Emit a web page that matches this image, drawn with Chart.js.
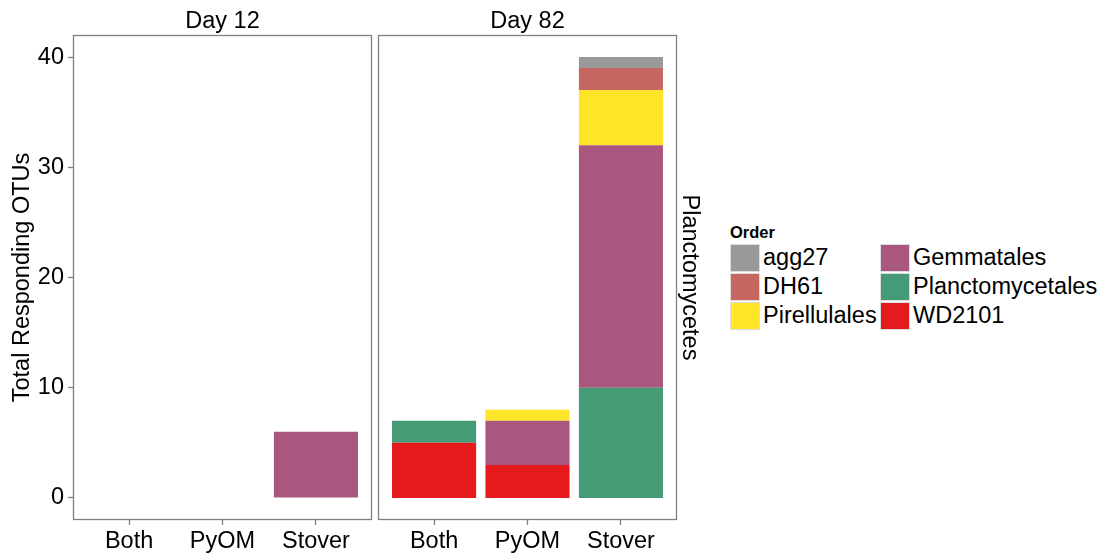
<!DOCTYPE html>
<html>
<head>
<meta charset="utf-8">
<script src="https://cdn.jsdelivr.net/npm/chart.js@4"></script>
<style>
  body { margin: 0; background: #fff; font-family: 'Liberation Sans', Arial, sans-serif; }
  #wrap { position: relative; width: 1104px; height: 554px; }
  canvas { position: absolute; top: 0; }
  #legend { position: absolute; left: 730px; top: 221px; }
  #legend .ttl { font-weight: bold; font-size: 16.5px; height: 22px; line-height: 22px; }
  .col { position: absolute; top: 22px; }
  .item { height: 29px; display: flex; align-items: center; }
  .key { width: 30px; height: 28px; border: 0.5px solid #ddd; box-sizing: border-box; margin-right: 3px; }
  .lab { font-size: 23.5px; color: #000; }
</style>
</head>
<body>
<div id="wrap">
  <canvas id="day12" width="373" height="554" style="left:0"></canvas>
  <canvas id="day82" width="347" height="554" style="left:373px"></canvas>
  <div id="legend"><div class="ttl">Order</div></div>
</div>
<script>
// categories and facets
const categories = ['Both', 'PyOM', 'Stover'];
const yTicks = [0, 10, 20, 30, 40];

// stacking order, bottom first
const orders = ['WD2101', 'Planctomycetales', 'Gemmatales', 'Pirellulales', 'DH61', 'agg27'];
const colors = ['#E41A1C', '#459B76', '#AA577F', '#FFE528', '#C76762', '#999999'];

// legend order (two columns)
const legendOrder = ['agg27', 'DH61', 'Pirellulales', 'Gemmatales', 'Planctomycetales', 'WD2101'];

// Day 12 values per order (Both, PyOM, Stover)
const day12WD2101 = [0, 0, 0];
const day12Planctomycetales = [0, 0, 0];
const day12Gemmatales = [0, 0, 6];
const day12Pirellulales = [0, 0, 0];
const day12DH61 = [0, 0, 0];
const day12agg27 = [0, 0, 0];

// Day 82 values per order
const day82WD2101 = [5, 3, 0];
const day82Planctomycetales = [2, 0, 10];
const day82Gemmatales = [0, 4, 22];
const day82Pirellulales = [0, 1, 5];
const day82DH61 = [0, 0, 2];
const day82agg27 = [0, 0, 1];

const day12 = [day12WD2101, day12Planctomycetales, day12Gemmatales, day12Pirellulales, day12DH61, day12agg27];
const day82 = [day82WD2101, day82Planctomycetales, day82Gemmatales, day82Pirellulales, day82DH61, day82agg27];

const FONT = "'Liberation Sans', Arial, sans-serif";
const FS = 23.5;
const GREY = '#808080';

function makeDatasets(values) {
  return orders.map(function (name, k) {
    return {
      label: name,
      data: values[k].map(function (v, i) { return { x: i + 1, y: v }; }),
      backgroundColor: colors[k],
      borderWidth: 0,
      categoryPercentage: 1,
      barPercentage: 0.9
    };
  });
}

// panel border + strip title above the panel
const panelBox = {
  id: 'panelBox',
  afterDraw(chart, args, opts) {
    const a = chart.chartArea, ctx = chart.ctx;
    ctx.save();
    ctx.strokeStyle = GREY;
    ctx.lineWidth = 1.3;
    ctx.strokeRect(a.left + 0.5, a.top + 0.5, a.right - a.left - 1, a.bottom - a.top - 1);
    ctx.fillStyle = '#000';
    ctx.font = FS + 'px ' + FONT;
    ctx.textAlign = 'center';
    ctx.textBaseline = 'middle';
    ctx.fillText(opts.text, (a.left + a.right) / 2, 22);
    ctx.restore();
  }
};

// right strip label
const rightStrip = {
  id: 'rightStrip',
  afterDraw(chart) {
    const a = chart.chartArea, ctx = chart.ctx;
    ctx.save();
    ctx.translate(a.right + 12, (a.top + a.bottom) / 2);
    ctx.rotate(Math.PI / 2);
    ctx.fillStyle = '#000';
    ctx.font = FS + 'px ' + FONT;
    ctx.textAlign = 'center';
    ctx.textBaseline = 'middle';
    ctx.fillText('Planctomycetes', 0, 0);
    ctx.restore();
  }
};

function makeChart(id, title, values, showY, padding, extra) {
  return new Chart(document.getElementById(id), {
    type: 'bar',
    data: { datasets: makeDatasets(values) },
    plugins: [panelBox].concat(extra),
    options: {
      responsive: false,
      animation: false,
      layout: { padding: padding },
      plugins: {
        legend: { display: false },
        tooltip: { enabled: false },
        panelBox: { text: title }
      },
      scales: {
        x: {
          type: 'linear',
          stacked: true,
          offset: false,
          min: 0.4,
          max: 3.6,
          afterBuildTicks: function (s) { s.ticks = categories.map(function (c, i) { return { value: i + 1 }; }); },
          afterFit: function (s) { s.height = 34; },
          grid: { offset: false, drawOnChartArea: false, tickLength: 5, tickColor: GREY, tickWidth: 1.3 },
          border: { display: false },
          ticks: {
            color: '#000',
            padding: 2,
            font: { family: FONT, size: FS },
            maxRotation: 0,
            autoSkip: false,
            callback: function (v) { return categories[v - 1]; }
          }
        },
        y: {
          display: showY,
          stacked: true,
          min: -2,
          max: 42,
          afterBuildTicks: function (s) { s.ticks = yTicks.map(function (v) { return { value: v }; }); },
          afterFit: function (s) { s.width = showY ? 73 : 0; },
          grid: { drawOnChartArea: false, tickLength: 5, tickColor: GREY, tickWidth: 1.3 },
          border: { display: false },
          title: {
            display: true,
            text: 'Total Responding OTUs',
            color: '#000',
            font: { family: FONT, size: FS },
            padding: { top: 8, bottom: 0 }
          },
          ticks: {
            color: '#000',
            padding: 4,
            font: { family: FONT, size: FS }
          }
        }
      }
    }
  });
}

makeChart('day12', 'Day 12', day12, true, { left: 0, right: 1, top: 35, bottom: 0 }, []);
makeChart('day82', 'Day 82', day82, false, { left: 5, right: 43, top: 35, bottom: 0 }, [rightStrip]);

// legend built from the same arrays
const legend = document.getElementById('legend');
[legendOrder.slice(0, 3), legendOrder.slice(3)].forEach(function (names, c) {
  const col = document.createElement('div');
  col.className = 'col';
  col.style.left = (c * 150) + 'px';
  names.forEach(function (n) {
    const item = document.createElement('div');
    item.className = 'item';
    const key = document.createElement('div');
    key.className = 'key';
    key.style.background = colors[orders.indexOf(n)];
    const lab = document.createElement('span');
    lab.className = 'lab';
    lab.textContent = n;
    item.appendChild(key);
    item.appendChild(lab);
    col.appendChild(item);
  });
  legend.appendChild(col);
});
</script>
</body>
</html>
